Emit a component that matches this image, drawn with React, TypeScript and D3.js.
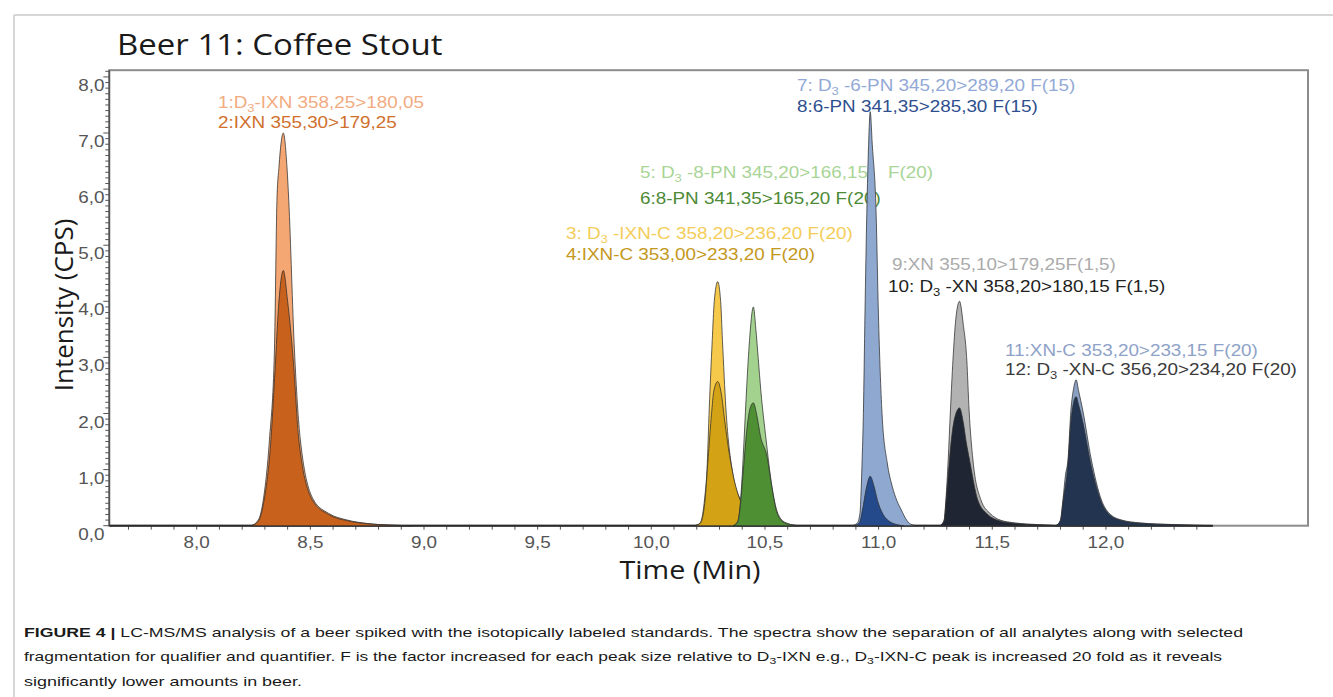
import React from 'react';
import * as d3 from 'd3';

const W = 1333;
const H = 697;

type Pt = [number, number];

// Retention time (min) / intensity pairs for each MRM transition
const ixnD3: Pt[] = [[8.24, 0], [8.271, 0.1], [8.293, 0.46], [8.32, 1.53], [8.342, 3.13], [8.353, 5.8], [8.362, 6.4], [8.381, 7.0], [8.397, 6.4], [8.405, 5.8], [8.43, 3.13], [8.456, 1.53], [8.514, 0.46], [8.58, 0.22], [8.663, 0.1], [8.75, 0.04], [8.85, 0.01], [8.95, 0]];
const ixn: Pt[] = [[8.24, 0], [8.271, 0.08], [8.295, 0.42], [8.325, 1.45], [8.345, 2.8], [8.36, 3.9], [8.381, 4.55], [8.4, 4.0], [8.424, 3.0], [8.45, 1.5], [8.51, 0.45], [8.58, 0.2], [8.66, 0.09], [8.75, 0.035], [8.85, 0.01], [8.95, 0]];
const ixnCD3: Pt[] = [[10.19, 0], [10.215, 0.05], [10.235, 0.5], [10.245, 1.0], [10.255, 2.1], [10.268, 3.3], [10.277, 4.0], [10.292, 4.35], [10.305, 4.0], [10.313, 3.3], [10.328, 2.1], [10.358, 0.94], [10.4, 0.4], [10.438, 0.16], [10.48, 0.07], [10.53, 0.02], [10.58, 0]];
const ixnC: Pt[] = [[10.19, 0], [10.215, 0.04], [10.235, 0.4], [10.25, 1.2], [10.265, 2.0], [10.275, 2.4], [10.292, 2.57], [10.308, 2.35], [10.322, 1.9], [10.335, 1.5], [10.36, 0.9], [10.38, 0.58], [10.42, 0.25], [10.46, 0.1], [10.52, 0.03], [10.58, 0]];
const pn8D3: Pt[] = [[10.36, 0], [10.38, 0.08], [10.39, 0.33], [10.4, 0.9], [10.408, 1.53], [10.42, 2.5], [10.432, 3.3], [10.449, 3.9], [10.46, 3.5], [10.47, 3.0], [10.482, 2.4], [10.505, 1.53], [10.525, 0.85], [10.548, 0.33], [10.57, 0.12], [10.6, 0.04], [10.65, 0]];
const pn8: Pt[] = [[10.36, 0], [10.38, 0.06], [10.39, 0.3], [10.405, 1.0], [10.42, 1.7], [10.435, 2.1], [10.449, 2.19], [10.465, 1.95], [10.48, 1.6], [10.509, 1.23], [10.53, 0.7], [10.548, 0.3], [10.57, 0.1], [10.6, 0.03], [10.65, 0]];
const pn6D3: Pt[] = [[10.88, 0], [10.905, 0.04], [10.918, 0.22], [10.922, 0.52], [10.927, 1.12], [10.933, 2.0], [10.94, 3.79], [10.948, 5.57], [10.956, 6.8], [10.963, 7.38], [10.972, 6.8], [10.989, 5.57], [10.999, 3.79], [11.015, 2.0], [11.038, 1.12], [11.06, 0.7], [11.08, 0.45], [11.1, 0.28], [11.12, 0.12], [11.14, 0.03], [11.17, 0]];
const pn6: Pt[] = [[10.89, 0], [10.915, 0.05], [10.93, 0.3], [10.945, 0.65], [10.963, 0.88], [10.98, 0.7], [10.995, 0.45], [11.02, 0.2], [11.05, 0.07], [11.08, 0.02], [11.11, 0]];
const xn: Pt[] = [[11.27, 0], [11.288, 0.1], [11.296, 0.46], [11.306, 1.17], [11.316, 2.06], [11.327, 2.95], [11.34, 3.7], [11.356, 4.0], [11.372, 3.6], [11.388, 2.95], [11.398, 2.06], [11.415, 1.17], [11.45, 0.46], [11.49, 0.22], [11.535, 0.1], [11.6, 0.05], [11.7, 0.02], [11.79, 0]];
const xnD3: Pt[] = [[11.27, 0], [11.288, 0.08], [11.296, 0.4], [11.31, 1.1], [11.325, 1.7], [11.34, 2.0], [11.356, 2.1], [11.372, 1.85], [11.385, 1.5], [11.4, 1.17], [11.436, 0.46], [11.48, 0.2], [11.53, 0.09], [11.6, 0.04], [11.7, 0.015], [11.79, 0]];
const xnC: Pt[] = [[11.78, 0], [11.8, 0.1], [11.811, 0.46], [11.822, 0.9], [11.833, 1.17], [11.846, 2.06], [11.858, 2.45], [11.869, 2.6], [11.88, 2.4], [11.898, 2.06], [11.936, 1.17], [11.98, 0.46], [12.02, 0.2], [12.07, 0.1], [12.15, 0.05], [12.3, 0.02], [12.47, 0]];
const xnCD3: Pt[] = [[11.78, 0], [11.8, 0.09], [11.811, 0.42], [11.833, 1.1], [11.846, 1.85], [11.858, 2.2], [11.869, 2.3], [11.88, 2.15], [11.898, 1.85], [11.936, 1.05], [11.98, 0.42], [12.02, 0.18], [12.07, 0.09], [12.15, 0.045], [12.3, 0.018], [12.47, 0]];

// Flat acquisition baseline (start and end of the run)
const baselineRun: Pt[] = [[7.6155, 0], [12.47, 0]];

// Axis ticks
const xMajorTicks = [8.0, 8.5, 9.0, 9.5, 10.0, 10.5, 11.0, 11.5, 12.0];
const xTickLabels = ['8,0', '8,5', '9,0', '9,5', '10,0', '10,5', '11,0', '11,5', '12,0'];
const xMinorFrom = 7.7;
const xMinorTo = 12.4;
const yMajorTicks = [0, 1, 2, 3, 4, 5, 6, 7, 8];
const yTickLabels = ['0,0', '1,0', '2,0', '3,0', '4,0', '5,0', '6,0', '7,0', '8,0'];

// Traces in drawing order: qualifier/labelled trace first, its partner on top
const traces = [
  { data: ixnD3, fill: '#f4a772' },
  { data: ixn, fill: '#c8611b' },
  { data: ixnCD3, fill: '#f6c94a' },
  { data: ixnC, fill: '#d4a215' },
  { data: pn8D3, fill: '#a3d28e' },
  { data: pn8, fill: '#4f8f34' },
  { data: pn6D3, fill: '#8ea8d0' },
  { data: pn6, fill: '#244a8c' },
  { data: xn, fill: '#b2b2b2' },
  { data: xnD3, fill: '#1f2533' },
  { data: xnC, fill: '#8aa0c2' },
  { data: xnCD3, fill: '#22344f' },
];

// Transition labels: text before subscript, subscript, text after, optional trailing part
const transitionLabels = [
  { pre: '1:D', sub: '3', post: '-IXN 358,25>180,05', tail: '' },
  { pre: '2:IXN 355,30>179,25', sub: '', post: '', tail: '' },
  { pre: '7: D', sub: '3', post: ' -6-PN 345,20>289,20 F(15)', tail: '' },
  { pre: '8:6-PN 341,35>285,30 F(15)', sub: '', post: '', tail: '' },
  { pre: '5: D', sub: '3', post: ' -8-PN 345,20>166,15', tail: 'F(20)' },
  { pre: '6:8-PN 341,35>165,20 F(20)', sub: '', post: '', tail: '' },
  { pre: '3: D', sub: '3', post: ' -IXN-C 358,20>236,20 F(20)', tail: '' },
  { pre: '4:IXN-C 353,00>233,20 F(20)', sub: '', post: '', tail: '' },
  { pre: '9:XN 355,10>179,25F(1,5)', sub: '', post: '', tail: '' },
  { pre: '10: D', sub: '3', post: ' -XN 358,20>180,15 F(1,5)', tail: '' },
  { pre: '11:XN-C 353,20>233,15 F(20)', sub: '', post: '', tail: '' },
  { pre: '12: D', sub: '3', post: ' -XN-C 356,20>234,20 F(20)', tail: '' },
];

// Where each transition label sits and how it is coloured
const labelLayout = [
  { x: 218, y: 108, color: '#f2ab80', tailX: 0 },
  { x: 218, y: 128, color: '#d0702c', tailX: 0 },
  { x: 797, y: 91, color: '#92a9d6', tailX: 0 },
  { x: 797, y: 112, color: '#2e4e8e', tailX: 0 },
  { x: 640, y: 178, color: '#a9d596', tailX: 888 },
  { x: 640, y: 204, color: '#4d8a36', tailX: 0 },
  { x: 566, y: 239, color: '#f4cd58', tailX: 0 },
  { x: 566, y: 260, color: '#c4981c', tailX: 0 },
  { x: 892, y: 270, color: '#ababab', tailX: 0 },
  { x: 888, y: 292, color: '#222222', tailX: 0 },
  { x: 1005, y: 356, color: '#8ea2c8', tailX: 0 },
  { x: 1005, y: 375, color: '#3a3a3a', tailX: 0 },
];

const captionLines = [
  'LC-MS/MS analysis of a beer spiked with the isotopically labeled standards. The spectra show the separation of all analytes along with selected',
  'fragmentation for qualifier and quantifier. F is the factor increased for each peak size relative to D',
  'significantly lower amounts in beer.',
];

const SANS = '"Liberation Sans", Arial, sans-serif';
const HUMANIST = '"Open Sans", "Noto Sans", sans-serif';
const SX = 1.18;

function SText(props: any) {
  const { x, y, sx = SX, anchor = 'start', children, ...rest } = props;
  return (
    <text transform={`translate(${x},${y}) scale(${sx},1)`} textAnchor={anchor} {...rest}>
      {children}
    </text>
  );
}

export default function App() {
  const left = 109.3;
  const right = 1308;
  const top = 70.2;
  const bottom = 525.7;

  const x = d3.scaleLinear().domain([7.6155, 12.889]).range([left, right]);
  const y = d3.scaleLinear().domain([0, 8.12]).range([bottom, top]);

  const area = d3
    .area<Pt>()
    .x((d) => x(d[0]))
    .y0(y(0))
    .y1((d) => y(d[1]))
    .curve(d3.curveMonotoneX);
  const line = d3
    .line<Pt>()
    .x((d) => x(d[0]))
    .y((d) => y(d[1]));

  const xMinor = d3.range(Math.round(xMinorFrom * 10), Math.round(xMinorTo * 10) + 1).map((v) => v / 10);
  const yMinor = d3.range(0, 82).map((v) => v / 10);

  return (
    <svg
      width={W}
      height={H}
      viewBox={`0 0 ${W} ${H}`}
      style={{ position: 'absolute', left: 0, top: 0, background: '#fff' }}
    >
      {/* page frame */}
      <line x1={14} y1={15} x2={W} y2={15} stroke="#d6d6d6" strokeWidth={2} />
      <line x1={14} y1={15} x2={14} y2={H} stroke="#d6d6d6" strokeWidth={2} />

      {/* title */}
      <SText x={117} y={55} sx={1.1} fontFamily={HUMANIST} fontSize={30} fill="#1a1a1a">
        Beer 11: Coffee Stout
      </SText>

      {/* plot frame */}
      <rect x={left} y={top} width={right - left} height={bottom - top} fill="#fff" stroke="#8c8c8c" strokeWidth={2} />

      {/* y axis ticks */}
      <g stroke="#555" strokeWidth={1}>
        {yMinor.map((v) => (
          <line key={'ym' + v} x1={left - (Math.abs(v - Math.round(v)) < 1e-6 ? 6 : 4)} x2={left} y1={y(v)} y2={y(v)} />
        ))}
      </g>
      <line x1={left} y1={top} x2={left} y2={bottom} stroke="#555" strokeWidth={1.5} />
      {yMajorTicks.map((v, i) => (
        <SText key={'yl' + v} x={104.5} y={y(v) + 14} anchor="end" fontFamily={SANS} fontSize={16} fill="#555">
          {yTickLabels[i]}
        </SText>
      ))}

      {/* x axis ticks */}
      <g stroke="#555" strokeWidth={1}>
        {xMinor.map((v) => (
          <line key={'xm' + v} x1={x(v)} x2={x(v)} y1={bottom} y2={bottom + 4} />
        ))}
      </g>
      {xMajorTicks.map((v, i) => (
        <SText key={'xl' + v} x={x(v)} y={548} anchor="middle" fontFamily={SANS} fontSize={16} fill="#555">
          {xTickLabels[i]}
        </SText>
      ))}

      {/* axis titles */}
      <SText x={690} y={579} sx={1.15} anchor="middle" fontFamily={HUMANIST} fontSize={25} fill="#1a1a1a">
        Time (Min)
      </SText>
      <text
        transform="translate(73,305) rotate(-90)"
        textAnchor="middle"
        fontFamily={HUMANIST}
        fontSize={26}
        fill="#1a1a1a"
      >
        Intensity (CPS)
      </text>

      {/* transition labels (peaks are drawn over them) */}
      {transitionLabels.map((lab, i) => {
        const pos = labelLayout[i];
        return (
          <g key={'lab' + i}>
            <SText x={pos.x} y={pos.y} fontFamily={SANS} fontSize={16} fill={pos.color}>
              {lab.pre}
              {lab.sub ? (
                <tspan fontSize={11} dy={4}>
                  {lab.sub}
                </tspan>
              ) : null}
              {lab.post ? <tspan dy={lab.sub ? -4 : 0}>{lab.post}</tspan> : null}
            </SText>
            {lab.tail ? (
              <SText x={pos.tailX} y={pos.y} fontFamily={SANS} fontSize={16} fill={pos.color}>
                {lab.tail}
              </SText>
            ) : null}
          </g>
        );
      })}

      {/* run baseline */}
      <path d={line(baselineRun) || ''} fill="none" stroke="#2a2a2a" strokeWidth={2} />

      {/* chromatogram peaks */}
      {traces.map((t, i) => (
        <path
          key={'tr' + i}
          d={area(t.data) || ''}
          fill={t.fill}
          stroke="#2d2d2d"
          strokeOpacity={0.75}
          strokeWidth={1}
          strokeLinejoin="round"
        />
      ))}

      {/* caption */}
      <text x={24} y={637} fontFamily={SANS} fontSize={13.5} fill="#1a1a1a" textLength={1219} lengthAdjust="spacingAndGlyphs">
        <tspan fontWeight="bold">FIGURE 4 | </tspan>
        {captionLines[0]}
      </text>
      <text x={24} y={661} fontFamily={SANS} fontSize={13.5} fill="#1a1a1a" textLength={1198} lengthAdjust="spacingAndGlyphs">
        {captionLines[1]}
        <tspan fontSize={9.5} dy={3}>3</tspan>
        <tspan dy={-3}>-IXN e.g., D</tspan>
        <tspan fontSize={9.5} dy={3}>3</tspan>
        <tspan dy={-3}>-IXN-C peak is increased 20 fold as it reveals</tspan>
      </text>
      <text x={24} y={686} fontFamily={SANS} fontSize={13.5} fill="#1a1a1a" textLength={278} lengthAdjust="spacingAndGlyphs">
        {captionLines[2]}
      </text>
    </svg>
  );
}
